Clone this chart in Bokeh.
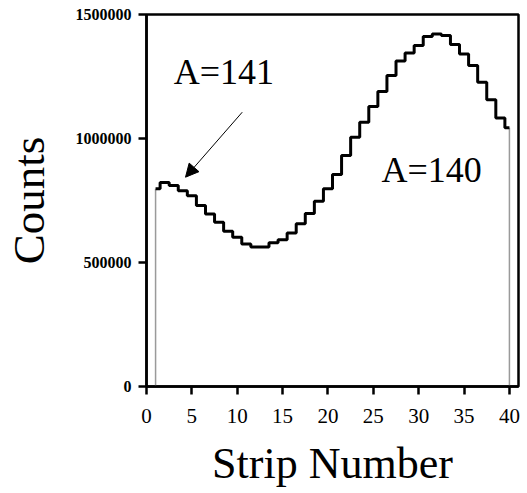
from bokeh.plotting import figure
from bokeh.models import Range1d, FixedTicker, Label, Arrow, NormalHead
from bokeh.embed import file_html
from bokeh.resources import INLINE

strips = list(range(1, 41))
counts = [797000, 823000, 810000, 789000, 769000, 730000, 696000, 662000, 626000, 602000,
          575000, 562000, 562000, 580000, 592000, 619000, 656000, 698000, 747000, 797000,
          855000, 931000, 1005000, 1066000, 1129000, 1190000, 1254000, 1312000, 1345000, 1375000,
          1411000, 1421000, 1415000, 1379000, 1341000, 1294000, 1227000, 1156000, 1083000, 1043000]
x_ticks = [0, 5, 10, 15, 20, 25, 30, 35, 40]
y_ticks = [0, 500000, 1000000, 1500000]
y_tick_labels = ["0", "500000", "1000000", "1500000"]

FONT = "Liberation Serif"

p = figure(width=522, height=490, output_backend="svg", toolbar_location=None,
           x_range=Range1d(0, 41), y_range=Range1d(0, 1500000),
           min_border_left=146, min_border_right=4, min_border_top=14, min_border_bottom=104)
p.background_fill_color = "white"
p.border_fill_color = "white"
p.outline_line_color = "black"
p.outline_line_width = 2.5
p.xgrid.visible = False
p.ygrid.visible = False

for ax in (p.xaxis[0], p.yaxis[0]):
    ax.axis_line_width = 2.5
    ax.major_tick_line_width = 2.5
    ax.major_tick_in = 0
    ax.major_tick_out = 8
    ax.minor_tick_line_color = None
    ax.major_label_text_font = FONT
    ax.axis_label_text_font = FONT
    ax.axis_label_text_font_style = "normal"
    ax.axis_label_text_color = "black"
    ax.major_label_text_color = "black"

p.xaxis.ticker = FixedTicker(ticks=x_ticks)
p.xaxis.major_label_text_font_size = "21px"
p.xaxis.major_label_standoff = 14
p.xaxis.axis_label = "Strip Number"
p.xaxis.axis_label_text_font_size = "44px"
p.xaxis.axis_label_standoff = 13

p.yaxis.ticker = FixedTicker(ticks=y_ticks)
p.yaxis.major_label_overrides = {t: l for t, l in zip(y_ticks, y_tick_labels)}
p.yaxis.major_label_text_font_size = "16px"
p.yaxis.major_label_text_font_style = "bold"
p.yaxis.major_label_standoff = 7
p.yaxis.axis_label = "Counts"
p.yaxis.axis_label_text_font_size = "45px"
p.yaxis.axis_label_standoff = 19

# edge lines
p.segment(x0=[strips[0], strips[-1]], y0=[0, 0], x1=[strips[0], strips[-1]],
          y1=[counts[0], counts[-1]], line_color="#9a9a9a", line_width=1.5)
p.step(x=strips, y=counts, mode="center", line_color="black", line_width=3)

p.add_layout(Label(x=3.0, y=1268000, text="A=141", text_font=FONT, text_font_size="36px",
                   text_color="black", text_baseline="alphabetic"))
p.add_layout(Label(x=25.9, y=872000, text="A=140", text_font=FONT, text_font_size="36px",
                   text_color="black", text_baseline="alphabetic"))
p.add_layout(Arrow(x_start=10.55, y_start=1106000, x_end=4.3, y_end=844000,
                   line_color="black", line_width=1,
                   end=NormalHead(size=13, fill_color="black", line_color="black")))

open("out.html", "w").write(file_html(p, INLINE))
